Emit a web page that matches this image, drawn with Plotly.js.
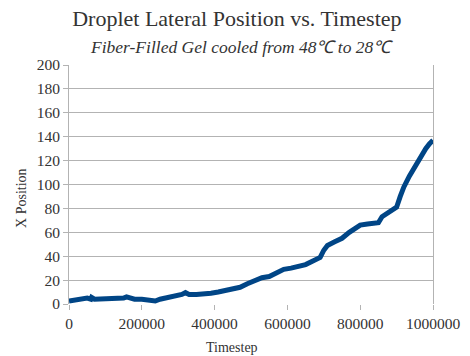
<!DOCTYPE html>
<html>
<head>
<meta charset="utf-8">
<script src="https://cdn.plot.ly/plotly-3.0.1.min.js"></script>
<style>html,body{margin:0;padding:0;background:#fff;}#chart{width:470px;height:356px;}</style>
</head>
<body>
<div id="chart"></div>
<script>
const timestep = [0,10000,20000,40000,50000,60000,62000,70000,80000,90000,100000,110000,120000,130000,140000,150000,158000,165000,180000,200000,220000,237000,250000,270000,290000,310000,320000,330000,350000,370000,390000,410000,430000,450000,470000,490000,510000,530000,550000,570000,590000,610000,630000,650000,670000,690000,700000,710000,730000,750000,770000,790000,800000,820000,840000,850000,860000,875000,890000,900000,910000,920000,935000,950000,965000,980000,990000,1000000];
const xPosition = [2.5,3,4,4,5,4,5.5,4,4,5,5,4.5,5,5,5,5,6,5,4,4,3,2.5,4,5,6,8,9.5,8,8,8,9,10,11,12,14,17,20,22,23,26,29,30,31,33,36,39,45,49,52,55,60,64,66,67,67,68,73,76,78,81,90,98,107,115,124,130,134,137];
const xTicks = [0,200000,400000,600000,800000,1000000];
const yTicks = [0,20,40,60,80,100,120,140,160,180,200];
const font = "Liberation Serif, serif";
const grid = "#b3b3b3";
const txt = "#333";
Plotly.newPlot("chart", [{
  x: timestep, y: xPosition, type: "scatter", mode: "lines",
  line: {color: "#004586", width: 5}, hoverinfo: "skip"
}], {
  width: 470, height: 356,
  margin: {l: 69, r: 37, t: 65, b: 52},
  paper_bgcolor: "#fff", plot_bgcolor: "#fff",
  showlegend: false,
  font: {family: font, color: txt},
  title: {text: "Droplet Lateral Position vs. Timestep", font: {family: font, size: 22, color: txt}, x: 0.504, xref: "container", xanchor: "center", y: 0.949, yref: "container", yanchor: "middle"},
  annotations: [
    {text: "<i>Fiber-Filled Gel cooled from 48℃ to 28℃</i>", xref: "paper", yref: "paper", x: 0.475, y: 1.075, xanchor: "center", yanchor: "middle", showarrow: false, font: {family: font, size: 17.5, color: txt}},
    {text: "X Position", xref: "paper", yref: "paper", x: -0.132, y: 0.4435, xanchor: "center", yanchor: "middle", textangle: -90, showarrow: false, font: {family: font, size: 14, color: txt}},
    {text: "Timestep", xref: "paper", yref: "paper", x: 0.448, y: -0.184, xanchor: "center", yanchor: "middle", showarrow: false, font: {family: font, size: 14, color: txt}}
  ],
  xaxis: {range: [0, 1000000], tickvals: xTicks, ticktext: xTicks.map(String), showgrid: false, zeroline: false, showline: false,
          ticks: "outside", ticklen: 5, tickcolor: grid, tickfont: {family: font, size: 15.5, color: txt}},
  yaxis: {range: [0, 200], tickvals: yTicks, showgrid: true, gridcolor: grid, gridwidth: 1, zeroline: false, showline: true, mirror: true, linecolor: grid,
          ticks: "outside", ticklen: 5, tickcolor: grid, tickfont: {family: font, size: 15.5, color: txt}}
}, {staticPlot: true});
</script>
</body>
</html>
